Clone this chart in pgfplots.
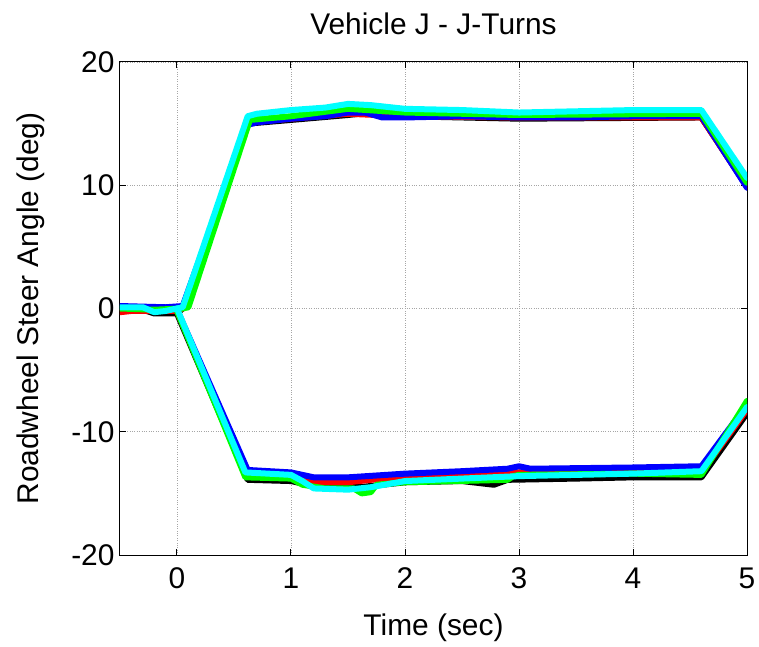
\documentclass[border=0pt]{standalone}
\usepackage{pgfplots}
\pgfplotsset{compat=1.18}
\usepackage{fontspec}
\setmainfont{Liberation Sans}
\definecolor{mred}{rgb}{1,0,0}
\definecolor{mblue}{rgb}{0,0,1}
\definecolor{mgreen}{rgb}{0,1,0}
\definecolor{mcyan}{rgb}{0,1,1}
\begin{document}
\begin{tikzpicture}
\begin{axis}[
  scale only axis,
  width=627bp, height=493bp,
  xmin=-0.5, xmax=5, ymin=-20, ymax=20,
  xtick={0,1,2,3,4,5}, ytick={-20,-10,0,10,20},
  grid=major,
  major grid style={dotted, line width=0.9bp, gray!70},
  axis line style={line width=1bp},
  tick style={line width=1bp, black},
  major tick length=6bp,
  tick align=inside,
  xtick pos=both, ytick pos=both,
  /pgf/number format/assume math mode=true,
  tick label style={font=\fontsize{30}{36}\selectfont},
  xticklabel style={yshift=-9bp},
  yticklabel style={xshift=-2bp},
  label style={font=\fontsize{30}{36}\selectfont},
  title style={font=\fontsize{30}{36}\selectfont, yshift=18bp},
  title={Vehicle J - J-Turns},
  xlabel={Time (sec)},
  ylabel={Roadwheel Steer Angle (deg)},
  xlabel style={yshift=-18bp},
  ylabel style={yshift=20bp},
  every axis plot/.append style={line width=6bp, line join=round, line cap=round},
]
% black
\addplot[black] coordinates {(-0.5,0) (-0.3,-0.1) (-0.2,-0.4) (0,-0.4) (0.05,0) (0.62,15.0) (1.0,15.3) (1.5,15.7) (1.6,15.8) (1.8,15.8) (2.0,15.6) (3.0,15.4) (4.6,15.5) (5.0,9.9)};
\addplot[black] coordinates {(0,-0.4) (0.62,-13.9) (1.0,-14.0) (1.2,-14.4) (1.6,-14.5) (2.0,-14.1) (2.5,-14.0) (2.78,-14.3) (2.9,-13.9) (3.5,-13.8) (4.0,-13.7) (4.6,-13.7) (5.0,-8.5)};
% red
\addplot[mred] coordinates {(-0.5,-0.3) (-0.4,-0.2) (-0.2,-0.2) (0,-0.2) (0.05,0) (0.62,15.1) (1.0,15.4) (1.5,15.8) (2.0,15.6) (3.0,15.5) (4.6,15.5) (5.0,9.9)};
\addplot[mred] coordinates {(0,-0.2) (0.62,-13.6) (1.0,-13.7) (1.2,-14.1) (1.5,-14.1) (1.7,-13.9) (2.0,-13.6) (3.0,-13.3) (4.6,-13.3) (5.0,-8.2)};
% blue
\addplot[mblue] coordinates {(-0.5,0.2) (-0.3,0.15) (-0.1,0.1) (0.05,0.2) (0.62,14.9) (0.7,15.1) (1.0,15.4) (1.3,15.6) (1.5,15.9) (1.65,15.9) (1.8,15.5) (2.0,15.5) (2.5,15.6) (3.0,15.5) (3.5,15.5) (4.0,15.6) (4.6,15.6) (5.0,9.8)};
\addplot[mblue] coordinates {(0,-0.1) (0.62,-13.1) (1.0,-13.3) (1.2,-13.7) (1.5,-13.7) (2.0,-13.4) (2.5,-13.2) (2.9,-13.0) (3.0,-12.8) (3.1,-13.0) (4.0,-12.9) (4.6,-12.8) (5.0,-7.8)};
% green
\addplot[mgreen] coordinates {(-0.5,0) (-0.2,-0.1) (0.05,0) (0.1,0.1) (0.64,15.3) (1.0,15.6) (1.5,16.2) (2.0,15.9) (3.0,15.7) (4.6,15.8) (5.0,10.2)};
\addplot[mgreen] coordinates {(0,-0.2) (0.6,-13.7) (1.0,-13.8) (1.1,-14.3) (1.3,-14.6) (1.55,-14.6) (1.62,-15.0) (1.7,-14.9) (1.75,-14.3) (2.0,-14.1) (2.9,-13.9) (2.95,-13.6) (3.0,-13.5) (4.0,-13.4) (4.6,-13.5) (5.0,-7.5)};
% cyan
\addplot[mcyan] coordinates {(-0.5,0.1) (-0.3,0.1) (-0.2,-0.3) (-0.1,-0.2) (0,0) (0.05,0.1) (0.62,15.6) (0.7,15.8) (1.0,16.1) (1.3,16.3) (1.5,16.6) (1.7,16.5) (2.0,16.2) (2.5,16.1) (3.0,15.9) (3.5,16.0) (4.0,16.1) (4.6,16.1) (5.0,10.6)};
\addplot[mcyan] coordinates {(0,0) (0.6,-13.3) (1.0,-13.5) (1.1,-14.0) (1.2,-14.6) (1.5,-14.7) (1.7,-14.5) (2.0,-14.0) (2.5,-13.8) (3.0,-13.6) (4.0,-13.4) (4.6,-13.2) (5.0,-8.0)};
\end{axis}
\pgfresetboundingbox
\path (-120bp,-92bp) rectangle (639bp,555bp);
\end{tikzpicture}
\end{document}
